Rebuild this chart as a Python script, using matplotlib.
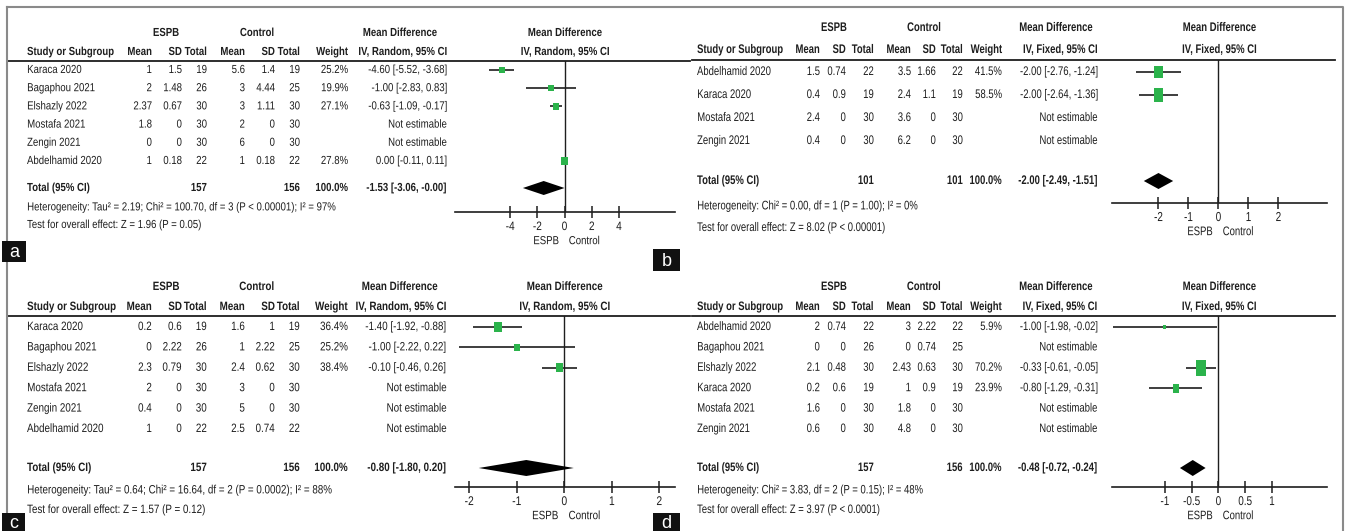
import numpy as np
import matplotlib
matplotlib.use("Agg")
import matplotlib.pyplot as plt
from matplotlib.font_manager import FontProperties
from matplotlib.patches import Rectangle
from matplotlib.patheffects import AbstractPathEffect
from matplotlib.textpath import TextToPath
from matplotlib.transforms import Affine2D

# ---- a: random effects ----
a_study = ["Karaca 2020", "Bagaphou 2021", "Elshazly 2022", "Mostafa 2021", "Zengin 2021", "Abdelhamid 2020"]
a_espb_mean = [1, 2, 2.37, 1.8, 0, 1]
a_espb_sd = [1.5, 1.48, 0.67, 0, 0, 0.18]
a_espb_n = [19, 26, 30, 30, 30, 22]
a_ctrl_mean = [5.6, 3, 3, 2, 6, 1]
a_ctrl_sd = [1.4, 4.44, 1.11, 0, 0, 0.18]
a_ctrl_n = [19, 25, 30, 30, 30, 22]
a_weight = [25.2, 19.9, 27.1, None, None, 27.8]
a_md = [-4.60, -1.00, -0.63, None, None, 0.00]
a_lo = [-5.52, -2.83, -1.09, None, None, -0.11]
a_hi = [-3.68, 0.83, -0.17, None, None, 0.11]
a_total_n = [157, 156]
a_total_ci = [-1.53, -3.06, -0.00]
a_het = "Heterogeneity: Tau\u00b2 = 2.19; Chi\u00b2 = 100.70, df = 3 (P < 0.00001); I\u00b2 = 97%"
a_test = "Test for overall effect: Z = 1.96 (P = 0.05)"
a_ticks = [-4, -2, 0, 2, 4]

# ---- b: fixed effect ----
b_study = ["Abdelhamid 2020", "Karaca 2020", "Mostafa 2021", "Zengin 2021"]
b_espb_mean = [1.5, 0.4, 2.4, 0.4]
b_espb_sd = [0.74, 0.9, 0, 0]
b_espb_n = [22, 19, 30, 30]
b_ctrl_mean = [3.5, 2.4, 3.6, 6.2]
b_ctrl_sd = [1.66, 1.1, 0, 0]
b_ctrl_n = [22, 19, 30, 30]
b_weight = [41.5, 58.5, None, None]
b_md = [-2.00, -2.00, None, None]
b_lo = [-2.76, -2.64, None, None]
b_hi = [-1.24, -1.36, None, None]
b_total_n = [101, 101]
b_total_ci = [-2.00, -2.49, -1.51]
b_het = "Heterogeneity: Chi\u00b2 = 0.00, df = 1 (P = 1.00); I\u00b2 = 0%"
b_test = "Test for overall effect: Z = 8.02 (P < 0.00001)"
b_ticks = [-2, -1, 0, 1, 2]

# ---- c: random effects ----
c_study = ["Karaca 2020", "Bagaphou 2021", "Elshazly 2022", "Mostafa 2021", "Zengin 2021", "Abdelhamid 2020"]
c_espb_mean = [0.2, 0, 2.3, 2, 0.4, 1]
c_espb_sd = [0.6, 2.22, 0.79, 0, 0, 0]
c_espb_n = [19, 26, 30, 30, 30, 22]
c_ctrl_mean = [1.6, 1, 2.4, 3, 5, 2.5]
c_ctrl_sd = [1, 2.22, 0.62, 0, 0, 0.74]
c_ctrl_n = [19, 25, 30, 30, 30, 22]
c_weight = [36.4, 25.2, 38.4, None, None, None]
c_md = [-1.40, -1.00, -0.10, None, None, None]
c_lo = [-1.92, -2.22, -0.46, None, None, None]
c_hi = [-0.88, 0.22, 0.26, None, None, None]
c_total_n = [157, 156]
c_total_ci = [-0.80, -1.80, 0.20]
c_het = "Heterogeneity: Tau\u00b2 = 0.64; Chi\u00b2 = 16.64, df = 2 (P = 0.0002); I\u00b2 = 88%"
c_test = "Test for overall effect: Z = 1.57 (P = 0.12)"
c_ticks = [-2, -1, 0, 1, 2]

# ---- d: fixed effect ----
d_study = ["Abdelhamid 2020", "Bagaphou 2021", "Elshazly 2022", "Karaca 2020", "Mostafa 2021", "Zengin 2021"]
d_espb_mean = [2, 0, 2.1, 0.2, 1.6, 0.6]
d_espb_sd = [0.74, 0, 0.48, 0.6, 0, 0]
d_espb_n = [22, 26, 30, 19, 30, 30]
d_ctrl_mean = [3, 0, 2.43, 1, 1.8, 4.8]
d_ctrl_sd = [2.22, 0.74, 0.63, 0.9, 0, 0]
d_ctrl_n = [22, 25, 30, 19, 30, 30]
d_weight = [5.9, None, 70.2, 23.9, None, None]
d_md = [-1.00, None, -0.33, -0.80, None, None]
d_lo = [-1.98, None, -0.61, -1.29, None, None]
d_hi = [-0.02, None, -0.05, -0.31, None, None]
d_total_n = [157, 156]
d_total_ci = [-0.48, -0.72, -0.24]
d_het = "Heterogeneity: Chi\u00b2 = 3.83, df = 2 (P = 0.15); I\u00b2 = 48%"
d_test = "Test for overall effect: Z = 3.97 (P < 0.0001)"
d_ticks = [-1, -0.5, 0, 0.5, 1]

INK = "#1e1e1e"
GREEN = "#2bb34b"
W, H = 1346, 531
plt.rcParams["axes.unicode_minus"] = False

FP_REG = FontProperties(family=["Liberation Sans", "DejaVu Sans"])
FP_BOLD = FontProperties(family=["Liberation Sans", "DejaVu Sans"], weight="bold")


class Narrow(AbstractPathEffect):
    """Squeeze glyphs horizontally about the text anchor (condensed look)."""

    def __init__(self, sx, align="left"):
        super().__init__()
        self.sx = sx
        self.align = align

    def draw_path(self, renderer, gc, tpath, affine, rgbFace=None):
        ext = tpath.get_extents(affine)
        cx = {"left": ext.x0, "right": ext.x1}.get(self.align, (ext.x0 + ext.x1) / 2)
        squeeze = Affine2D().translate(-cx, 0).scale(self.sx, 1).translate(cx, 0)
        renderer.draw_path(gc, tpath, affine + squeeze, rgbFace)


def width_px(s, fp, size):
    p = fp.copy()
    p.set_size(size)
    w, _, _ = TextToPath().get_text_width_height_descent(s, p, ismath=False)
    return w * 100 / 72


def prop(size, bold=False):
    p = (FP_BOLD if bold else FP_REG).copy()
    p.set_size(size)
    return p


# pixel layout of each panel (table columns are right edges)
left_cols = [152, 182, 207, 245, 275, 300, 348, 447]
right_cols = [820, 846, 874, 911, 936, 963, 1002, 1098]
lay_a = dict(x0=27, cols=left_cols, grp=(166, 257, 400), y_grp=33, y_hdr=52, y_line=61,
             line=(8, 690), y_row0=70, pitch=18.2, y_total=188, y_het=207, y_test=225,
             fx=(455, 675), xlim=(-8.05, 8.12), y_axis=212, asp=1.1, dia=7, fs=8.4, head_w=87)
lay_b = dict(x0=697, cols=right_cols, grp=(834, 924, 1056), y_grp=28, y_hdr=50, y_line=60,
             line=(692, 1335), y_row0=72, pitch=23, y_total=181, y_het=206, y_test=228,
             fx=(1112, 1327), xlim=(-3.55, 3.62), y_axis=203, asp=1.4, dia=8, fs=9.0, head_w=86)
lay_c = dict(x0=27, cols=left_cols, grp=(166, 257, 400), y_grp=287, y_hdr=307, y_line=316,
             line=(8, 690), y_row0=327, pitch=20.4, y_total=468, y_het=490, y_test=510,
             fx=(455, 675), xlim=(-2.30, 2.33), y_axis=487, asp=1.2, dia=8, fs=8.7, head_w=89)
lay_d = dict(x0=697, cols=right_cols, grp=(834, 924, 1056), y_grp=287, y_hdr=307, y_line=316,
             line=(692, 1335), y_row0=327, pitch=20.4, y_total=468, y_het=490, y_test=510,
             fx=(1112, 1327), xlim=(-1.99, 2.03), y_axis=487, asp=1.5, dia=8, fs=8.8, head_w=86)

fig = plt.figure(figsize=(W / 100, H / 100), dpi=100)
canvas = fig.add_axes([0, 0, 1, 1])
canvas.set_xlim(0, W)
canvas.set_ylim(H, 0)
canvas.axis("off")


def fmt(v):
    return f"{v:g}"


def draw_panel(study, e_mean, e_sd, e_n, c_mean, c_sd, c_n, weight, md, lo, hi,
               total_n, total_ci, het, test, ticks, method, lay):
    cols = lay["cols"]
    x0 = lay["x0"]
    fs = lay["fs"]
    sx = lay["head_w"] / width_px("Study or Subgroup", FP_BOLD, fs)

    def put(x, y, s, ha="left", bold=False):
        canvas.text(x, y, s, ha=ha, va="center", color=INK, fontproperties=prop(fs, bold),
                    path_effects=[Narrow(sx, ha)])

    # header block
    put(lay["grp"][0], lay["y_grp"], "ESPB", "center", True)
    put(lay["grp"][1], lay["y_grp"], "Control", "center", True)
    put(lay["grp"][2], lay["y_grp"], "Mean Difference", "center", True)
    put(x0, lay["y_hdr"], "Study or Subgroup", "left", True)
    heads = ["Mean", "SD", "Total", "Mean", "SD", "Total", "Weight", method]
    for x, h in zip(cols, heads):
        put(x, lay["y_hdr"], h, "right", True)
    fcx = (lay["fx"][0] + lay["fx"][1]) / 2
    put(fcx, lay["y_grp"], "Mean Difference", "center", True)
    put(fcx, lay["y_hdr"], method, "center", True)
    canvas.plot(lay["line"], [lay["y_line"]] * 2, color=INK, lw=1.3)

    # study rows
    rows = [lay["y_row0"] + lay["pitch"] * i for i in range(len(study))]
    for i, y in enumerate(rows):
        put(x0, y, study[i])
        vals = [fmt(e_mean[i]), fmt(e_sd[i]), str(e_n[i]),
                fmt(c_mean[i]), fmt(c_sd[i]), str(c_n[i])]
        for x, v in zip(cols[:6], vals):
            put(x, y, v, "right")
        if weight[i] is None:
            put(cols[7], y, "Not estimable", "right")
        else:
            put(cols[6], y, f"{weight[i]:.1f}%", "right")
            put(cols[7], y, f"{md[i]:.2f} [{lo[i]:.2f}, {hi[i]:.2f}]", "right")

    yt = lay["y_total"]
    put(x0, yt, "Total (95% CI)", "left", True)
    put(cols[2], yt, str(total_n[0]), "right", True)
    put(cols[5], yt, str(total_n[1]), "right", True)
    put(cols[6], yt, "100.0%", "right", True)
    put(cols[7], yt, f"{total_ci[0]:.2f} [{total_ci[1]:.2f}, {total_ci[2]:.2f}]", "right", True)
    put(x0, lay["y_het"], het)
    put(x0, lay["y_test"], test)

    # forest plot
    fx0, fx1 = lay["fx"]
    ax = fig.add_axes([fx0 / W, 1 - lay["y_axis"] / H, (fx1 - fx0) / W, (lay["y_axis"] - lay["y_line"]) / H])
    ax.set_xlim(*lay["xlim"])
    ax.set_ylim(lay["y_axis"], lay["y_line"])
    ax.patch.set_visible(False)
    for s in ("top", "right", "left"):
        ax.spines[s].set_visible(False)
    ax.spines["bottom"].set_linewidth(1.2)
    ax.spines["bottom"].set_color(INK)
    ax.set_yticks([])
    ax.set_xticks(ticks)
    ax.set_xticklabels([fmt(t) for t in ticks], fontproperties=prop(fs + 0.4))
    for lab in ax.get_xticklabels():
        lab.set_path_effects([Narrow(sx, "center")])
    ax.tick_params(axis="x", direction="inout", length=8, width=1.1, pad=2.5, colors=INK)
    ax.axvline(0, color=INK, lw=1.0)

    px_per_unit = (fx1 - fx0) / (lay["xlim"][1] - lay["xlim"][0])
    for i, y in enumerate(rows):
        if weight[i] is None:
            continue
        ax.plot([lo[i], hi[i]], [y, y], color=INK, lw=1.2, solid_capstyle="butt", clip_on=False)
        side = 1.25 * np.sqrt(weight[i])
        wu = side / px_per_unit
        h = side * lay["asp"]
        ax.add_patch(Rectangle((md[i] - wu / 2, y - h / 2), wu, h, color=GREEN, lw=0,
                               zorder=3, clip_on=False))

    dh = lay["dia"]
    ax.fill([total_ci[1], total_ci[0], total_ci[2], total_ci[0]], [yt, yt - dh, yt, yt + dh],
            color="black", lw=0, zorder=3)

    for word, dx, ha in (("ESPB", -4, "right"), ("Control", 3, "left")):
        ax.annotate(word, xy=(0, 0), xycoords=("data", "axes fraction"), xytext=(dx, -21),
                    textcoords="offset points", ha=ha, va="center", color=INK,
                    fontproperties=prop(fs), path_effects=[Narrow(sx, ha)])


draw_panel(a_study, a_espb_mean, a_espb_sd, a_espb_n, a_ctrl_mean, a_ctrl_sd, a_ctrl_n,
           a_weight, a_md, a_lo, a_hi, a_total_n, a_total_ci, a_het, a_test, a_ticks,
           "IV, Random, 95% CI", lay_a)
draw_panel(b_study, b_espb_mean, b_espb_sd, b_espb_n, b_ctrl_mean, b_ctrl_sd, b_ctrl_n,
           b_weight, b_md, b_lo, b_hi, b_total_n, b_total_ci, b_het, b_test, b_ticks,
           "IV, Fixed, 95% CI", lay_b)
draw_panel(c_study, c_espb_mean, c_espb_sd, c_espb_n, c_ctrl_mean, c_ctrl_sd, c_ctrl_n,
           c_weight, c_md, c_lo, c_hi, c_total_n, c_total_ci, c_het, c_test, c_ticks,
           "IV, Random, 95% CI", lay_c)
draw_panel(d_study, d_espb_mean, d_espb_sd, d_espb_n, d_ctrl_mean, d_ctrl_sd, d_ctrl_n,
           d_weight, d_md, d_lo, d_hi, d_total_n, d_total_ci, d_het, d_test, d_ticks,
           "IV, Fixed, 95% CI", lay_d)

# outer frame
canvas.plot([7, 1343, 1343], [7, 7, H], color="#8a8a8a", lw=1.5)
canvas.plot([7, 7], [7, H], color="#8a8a8a", lw=1.5)

# panel letters
for letter, (bx, by, bw, bh) in zip("abcd", [(2, 241, 24, 21), (653, 249, 27, 22),
                                              (2, 513, 23, 18), (653, 513, 27, 18)]):
    canvas.add_patch(Rectangle((bx, by), bw, bh, color="#111111", lw=0, zorder=5))
    canvas.text(bx + bw / 2, by + bh / 2 + 1, letter, ha="center", va="center", color="white",
                fontsize=13, family=["Liberation Sans", "DejaVu Sans"], zorder=6)

fig.savefig("out.png", dpi=100)
